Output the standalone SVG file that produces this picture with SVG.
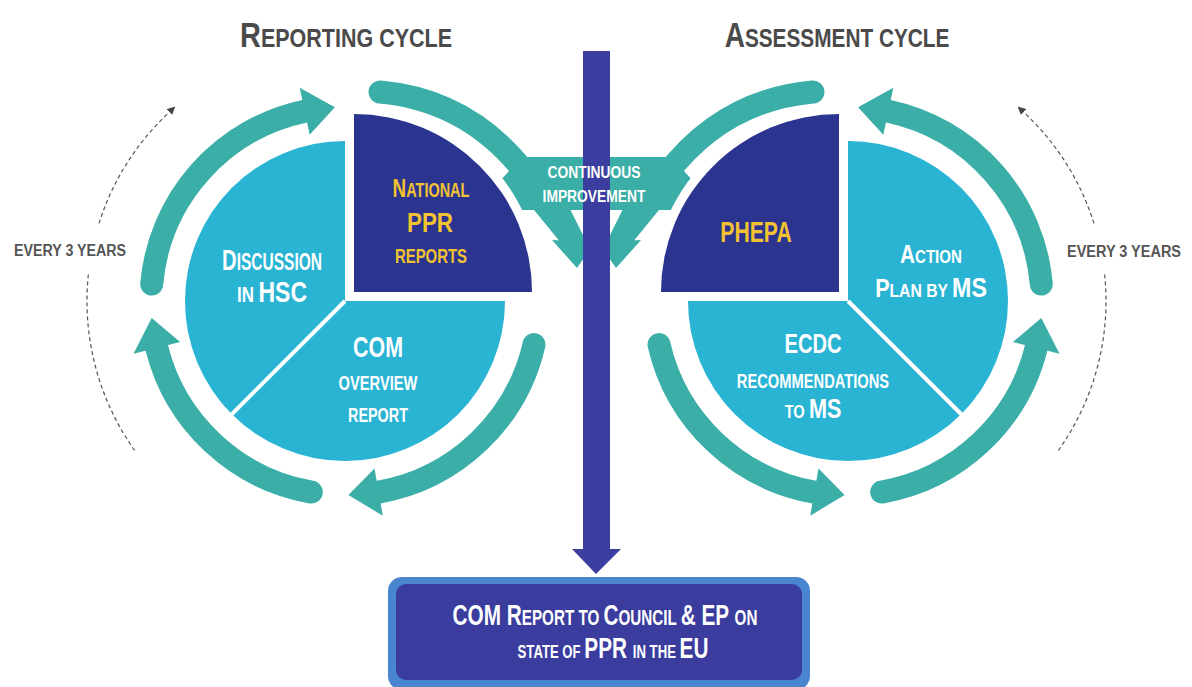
<svg xmlns="http://www.w3.org/2000/svg" width="1192" height="687" viewBox="0 0 1192 687">
<style>
.t{font-family:"Liberation Sans",Arial,sans-serif;font-weight:bold;text-anchor:middle}
.w{fill:#ffffff}
.y{fill:#f2c230}
.g{fill:#4a4a4a}
.e{fill:#555555}
.light{fill:#2ab4d4}
.dark{fill:#2b3590;stroke:#ffffff;stroke-width:18;paint-order:stroke}
.sep{stroke:#ffffff;stroke-width:4}
.arc{fill:none;stroke:#3aaea7;stroke-width:23;stroke-linecap:round}
.head{fill:#3aaea7}
.dash{fill:none;stroke:#555;stroke-width:1.2;stroke-dasharray:4 3}
</style>
<defs>
<marker id="dh" viewBox="0 0 10 10" refX="5" refY="5" markerWidth="8" markerHeight="8" orient="auto" markerUnits="userSpaceOnUse">
<path d="M0,0 L10,5 L0,10 Z" fill="#444"/>
</marker>
</defs>
<rect width="1192" height="687" fill="#ffffff"/>

<g id="titles">
<text class="t g" transform="translate(346,47) scale(0.827,1)"><tspan font-size="35">R</tspan><tspan font-size="26">EPORTING CYCLE</tspan></text>
<text class="t g" transform="translate(837,47) scale(0.8,1)"><tspan font-size="35">A</tspan><tspan font-size="26">SSESSMENT CYCLE</tspan></text>
<text class="t e" font-size="17" transform="translate(70,256) scale(0.838,1)">EVERY 3 YEARS</text>
<text class="t e" font-size="17" transform="translate(1124,257) scale(0.852,1)">EVERY 3 YEARS</text>
</g>

<g id="connectors">
<path class="dash" d="M134.7,450.5 A258,258 0 0 1 88.4,274"/>
<path class="dash" d="M99,223.4 A258,258 0 0 1 172.4,109.3" marker-end="url(#dh)"/>
<path class="dash" d="M1058.3,450.5 A258,258 0 0 0 1104.6,274"/>
<path class="dash" d="M1094,223.4 A258,258 0 0 0 1020.6,109.3" marker-end="url(#dh)"/>
<path class="arc" d="M151.7,284.1 A194,194 0 0 1 304.7,111.2"/>
<polygon class="head" points="309.7,134.7 299.7,87.8 334.9,107.3"/>
<path class="arc" d="M534,344.6 A194,194 0 0 1 378.7,492.1"/>
<polygon class="head" points="374.5,468.4 382.8,515.7 348.4,495"/>
<path class="arc" d="M311.3,492.1 A194,194 0 0 1 156.8,347.9"/>
<polygon class="head" points="180.1,342.1 133.5,353.7 151.7,317.9"/>
<path class="arc" d="M1041.3,284.1 A194,194 0 0 0 888.3,111.2"/>
<polygon class="head" points="883.3,134.7 893.3,87.8 858.1,107.3"/>
<path class="arc" d="M659,344.6 A194,194 0 0 0 814.3,492.1"/>
<polygon class="head" points="818.5,468.4 810.2,515.7 844.6,495"/>
<path class="arc" d="M881.7,492.1 A194,194 0 0 0 1036.2,347.9"/>
<polygon class="head" points="1012.9,342.1 1059.5,353.7 1041.3,317.9"/>
<path class="arc" d="M380,92 Q470,100 527,175"/>
<path class="arc" d="M813,92 Q723,100 666,175"/>
<polygon class="head" points="498,183 522,157 671,157 695,183 671,210 522,210"/>
<polygon class="head" points="530,205 568,205 587,243 561,243"/>
<polygon class="head" points="552,240 595,242 577,268"/>
<polygon class="head" points="663,205 625,205 606,243 632,243"/>
<polygon class="head" points="641,240 598,242 616,268"/>
<rect x="583" y="51" width="27" height="500" fill="#3b3e9e"/>
<polygon points="572,549 621,549 596,574" fill="#3b3e9e"/>
<text class="t w" font-size="17" transform="translate(594,178) scale(0.814,1)">CONTINUOUS</text>
<text class="t w" font-size="17" transform="translate(594,202) scale(0.814,1)">IMPROVEMENT</text>
</g>

<g id="reporting-cycle">
<circle class="light" cx="345" cy="301" r="160"/>
<line class="sep" x1="345" y1="301" x2="226" y2="420"/>
<g id="national-ppr">
<path class="dark" d="M354,292 V114 A178,178 0 0 1 532,292 Z"/>
<text class="t y" transform="translate(431,197) scale(0.724,1)"><tspan font-size="26">N</tspan><tspan font-size="20">ATIONAL</tspan></text>
<text class="t y" font-size="28" transform="translate(430,232) scale(0.8,1)">PPR</text>
<text class="t y" font-size="21" transform="translate(431,263) scale(0.71,1)">REPORTS</text>
</g>
<g id="discussion-hsc">
<text class="t w" transform="translate(272,270) scale(0.675,1)"><tspan font-size="30">D</tspan><tspan font-size="23">ISCUSSION</tspan></text>
<text class="t w" transform="translate(272,302) scale(0.766,1)"><tspan font-size="22">IN </tspan><tspan font-size="30">HSC</tspan></text>
</g>
<g id="com-overview">
<text class="t w" font-size="30" transform="translate(378,357) scale(0.714,1)">COM</text>
<text class="t w" font-size="21" transform="translate(378,390) scale(0.7,1)">OVERVIEW</text>
<text class="t w" font-size="21" transform="translate(378,422) scale(0.686,1)">REPORT</text>
</g>
</g>

<g id="assessment-cycle">
<circle class="light" cx="848" cy="301" r="160"/>
<line class="sep" x1="848" y1="301" x2="967" y2="420"/>
<g id="phepa">
<path class="dark" d="M839,292 V114 A178,178 0 0 0 661,292 Z"/>
<text class="t y" font-size="30" transform="translate(756,242) scale(0.706,1)">PHEPA</text>
</g>
<g id="action-plan">
<text class="t w" transform="translate(931,263) scale(0.796,1)"><tspan font-size="26">A</tspan><tspan font-size="19">CTION</tspan></text>
<text class="t w" transform="translate(931,297) scale(0.828,1)"><tspan font-size="26">P</tspan><tspan font-size="19">LAN BY </tspan><tspan font-size="28">MS</tspan></text>
</g>
<g id="ecdc-recommendations">
<text class="t w" font-size="28" transform="translate(813,353) scale(0.72,1)">ECDC</text>
<text class="t w" font-size="21" transform="translate(813,388) scale(0.7,1)">RECOMMENDATIONS</text>
<text class="t w" transform="translate(813,418) scale(0.773,1)"><tspan font-size="19">TO </tspan><tspan font-size="28">MS</tspan></text>
</g>
</g>

<g id="com-report">
<rect x="388" y="577" width="422" height="113" rx="14" fill="#4a86d0"/>
<rect x="396" y="584" width="406" height="96" rx="10" fill="#3a3c9e"/>
<text class="t w" transform="translate(605,625) scale(0.692,1)"><tspan font-size="30">COM R</tspan><tspan font-size="22">EPORT TO </tspan><tspan font-size="30">C</tspan><tspan font-size="22">OUNCIL </tspan><tspan font-size="30">&amp; EP </tspan><tspan font-size="22">ON</tspan></text>
<text class="t w" transform="translate(613,658) scale(0.693,1)"><tspan font-size="19">STATE OF </tspan><tspan font-size="30">PPR </tspan><tspan font-size="19">IN THE </tspan><tspan font-size="30">EU</tspan></text>
</g>
</svg>
